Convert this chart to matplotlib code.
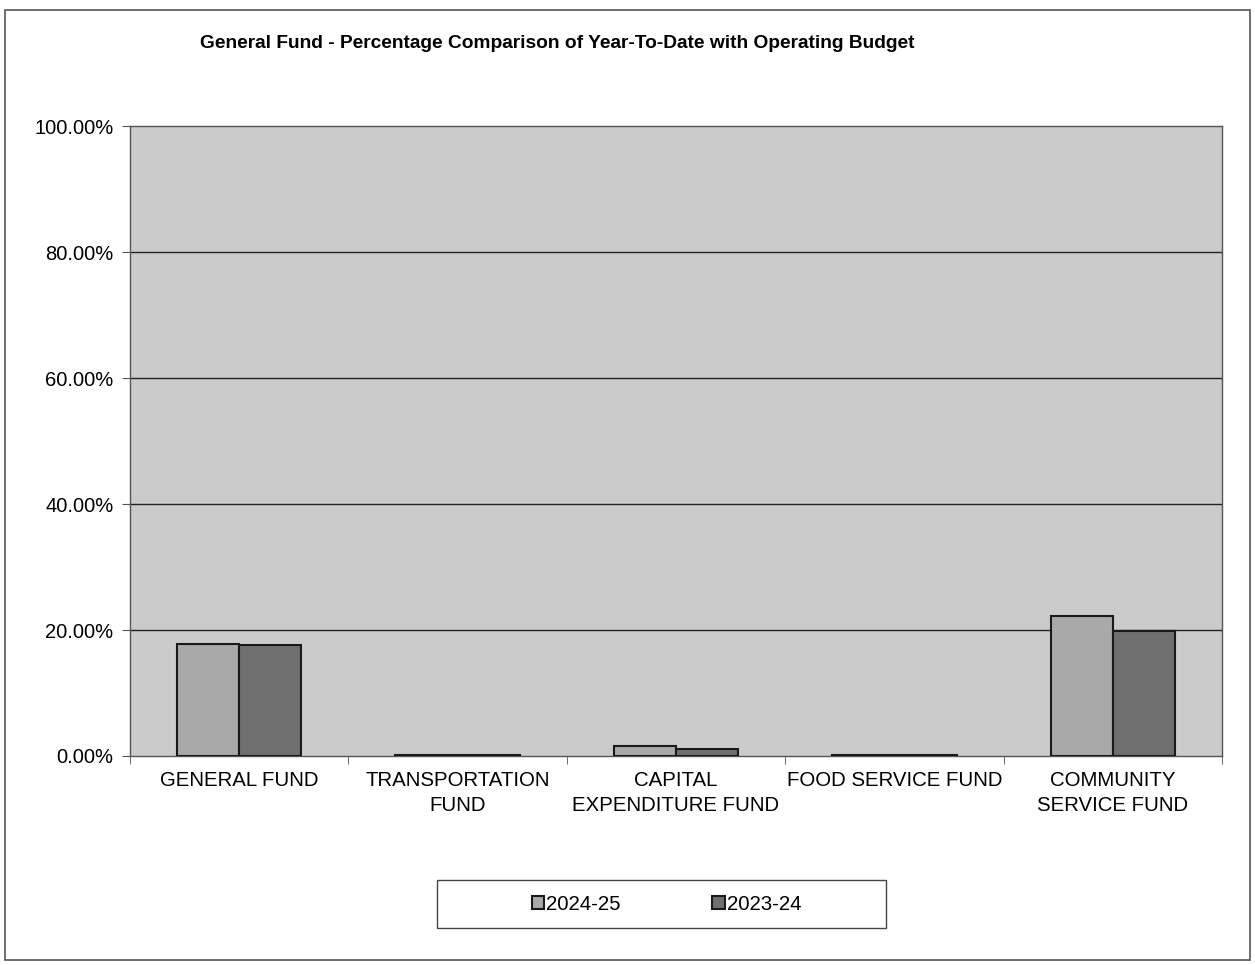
import matplotlib.pyplot as plt
import numpy as np
from matplotlib.patches import Rectangle

# data
categories = ["GENERAL FUND", "TRANSPORTATION\nFUND", "CAPITAL\nEXPENDITURE FUND",
              "FOOD SERVICE FUND", "COMMUNITY\nSERVICE FUND"]
series_names = ["2024-25", "2023-24"]
ytd_2024_25 = [17.8, 0.1, 1.6, 0.1, 22.2]
ytd_2023_24 = [17.7, 0.1, 1.1, 0.1, 19.8]
y_ticks = [0, 20, 40, 60, 80, 100]

plt.rcParams['font.family'] = ['Liberation Sans', 'DejaVu Sans']

fig = plt.figure(figsize=(12.55, 9.65), dpi=100)
fig.patch.set_facecolor('white')

# outer chart border
fig.add_artist(Rectangle((0.004, 0.005), 0.992, 0.985, transform=fig.transFigure,
                         fill=False, edgecolor='#555555', linewidth=1.2))

ax = fig.add_axes([0.1036, 0.2166, 0.8701, 0.6524])
ax.set_facecolor('#cbcbcb')

x = np.arange(len(categories))
w = 0.285
ax.bar(x - w / 2, ytd_2024_25, width=w, color='#a9a9a9', edgecolor='#1a1a1a',
       linewidth=1.5, label=series_names[0], zorder=3)
ax.bar(x + w / 2, ytd_2023_24, width=w, color='#6f6f6f', edgecolor='#1a1a1a',
       linewidth=1.5, label=series_names[1], zorder=3)

ax.set_xlim(-0.5, len(categories) - 0.5)
ax.set_ylim(0, 100)
ax.set_yticks(y_ticks)
ax.set_yticklabels([f"{v:.2f}%" for v in y_ticks], fontsize=14.5)
for v in y_ticks[1:-1]:
    ax.axhline(v, color='#222222', linewidth=1.0, zorder=1)

ax.set_xticks(x)
ax.set_xticklabels(categories, fontsize=14.7, linespacing=1.4)
ax.tick_params(axis='x', length=0, pad=11)
ax.set_xticks(np.arange(len(categories) + 1) - 0.5, minor=True)
ax.tick_params(axis='x', which='minor', length=6, color='#555555')
ax.tick_params(axis='y', length=6, color='#555555', pad=6)

for side in ['top', 'right', 'left', 'bottom']:
    ax.spines[side].set_color('#555555')
    ax.spines[side].set_linewidth(1.0)

fig.text(0.444, 0.955, "General Fund - Percentage Comparison of Year-To-Date with Operating Budget",
         ha='center', va='center', fontsize=13.8, fontweight='bold')

# legend box drawn wide like the original, entries inside without frame
fig.add_artist(Rectangle((0.3482, 0.0383), 0.3578, 0.0498, transform=fig.transFigure,
                         facecolor='white', edgecolor='#444444', linewidth=1.0))
leg = fig.legend(loc='center', bbox_to_anchor=(0.531, 0.0632), ncol=2, fontsize=14.7,
                 frameon=False, handlelength=0.6, handleheight=0.6, handletextpad=0.1,
                 columnspacing=4.5)

fig.savefig('out.png', dpi=100)
